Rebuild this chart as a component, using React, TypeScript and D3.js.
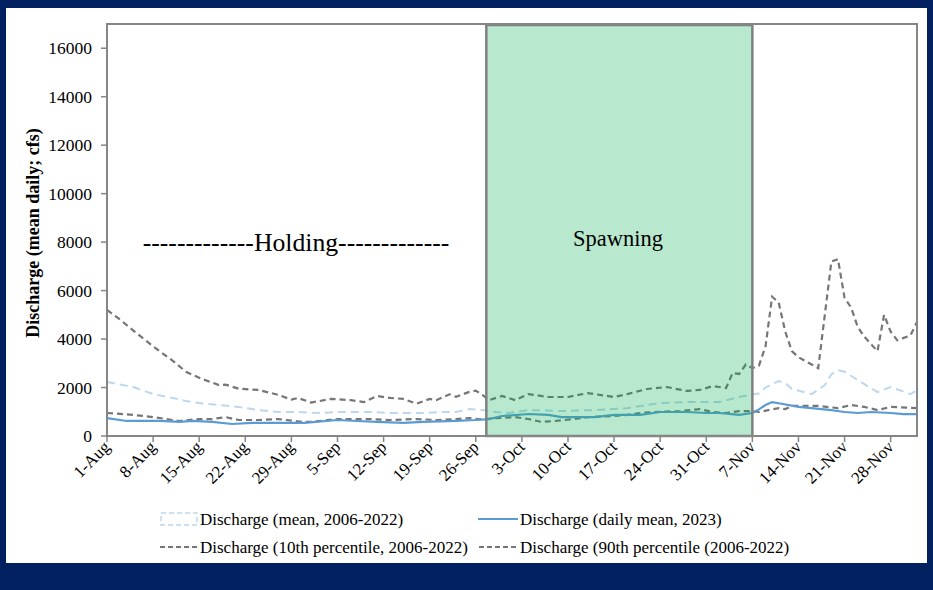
import React from "react";
import * as d3 from "d3";

// Day offsets from 1 Aug 2023, values in cfs
const START = new Date(2023, 7, 1);
const END_DAY = 123;

const meanHist: [number, number][] = [
  [0, 2230], [4, 2020], [7, 1730], [10, 1570], [12, 1440], [14, 1360], [17, 1280], [20, 1200],
  [23, 1070], [26, 990], [29, 990], [32, 950], [35, 990], [40, 990], [43, 950], [48, 950],
  [51, 990], [53, 990], [55, 1110], [57, 1070], [59, 990], [61, 950], [64, 1070], [69, 1030],
  [74, 1070], [79, 1150], [84, 1360], [88, 1400], [93, 1400], [96, 1610], [98, 1720], [99, 1750],
  [100, 2000], [102, 2270], [103, 2190], [104, 1940], [107, 1730], [109, 2100], [110, 2550],
  [111, 2720], [112, 2650], [114, 2310], [117, 1810], [119, 2020], [122, 1730], [123, 1900],
];

const daily2023: [number, number][] = [
  [0, 740], [3, 620], [8, 620], [11, 580], [13, 620], [16, 580], [19, 495], [22, 540], [26, 540],
  [30, 540], [35, 660], [38, 620], [41, 580], [45, 540], [48, 580], [53, 620], [56, 660], [58, 700],
  [60, 825], [64, 907], [67, 870], [69, 780], [72, 780], [74, 780], [77, 870], [81, 870], [84, 990],
  [88, 990], [91, 950], [93, 950], [96, 870], [98, 950], [99, 1100], [100, 1280], [101, 1400],
  [102, 1350], [105, 1200], [107, 1150], [110, 1070], [112, 990], [114, 950], [116, 990],
  [119, 950], [121, 900], [123, 900],
];

const p10Hist: [number, number][] = [
  [0, 950], [4, 870], [7, 780], [10, 660], [11, 620], [14, 700], [16, 700], [18, 780], [20, 660],
  [23, 660], [26, 700], [29, 600], [31, 580], [35, 700], [40, 700], [43, 660], [47, 700], [50, 660],
  [53, 700], [55, 740], [57, 680], [59, 740], [62, 780], [64, 700], [66, 580], [68, 620], [71, 700],
  [73, 780], [77, 825], [79, 870], [81, 950], [83, 990], [87, 1030], [90, 1110], [92, 990],
  [94, 950], [96, 1030], [98, 1030], [99, 990], [102, 1150], [103, 1110], [104, 1240], [108, 1240],
  [111, 1150], [113, 1280], [115, 1200], [117, 1070], [119, 1200], [123, 1150],
];

const p90Hist: [number, number][] = [
  [0, 5200], [2, 4800], [4, 4350], [7, 3700], [10, 3100], [12, 2650], [14, 2400], [17, 2100],
  [18, 2120], [20, 1950], [23, 1900], [26, 1700], [28, 1500], [29, 1570], [31, 1380], [34, 1530],
  [37, 1480], [39, 1400], [41, 1650], [43, 1570], [45, 1530], [47, 1330], [49, 1530], [50, 1480],
  [52, 1720], [53, 1620], [55, 1820], [56, 1870], [57, 1700], [58, 1480], [60, 1650], [62, 1480],
  [64, 1730], [67, 1610], [70, 1610], [73, 1770], [77, 1610], [79, 1730], [82, 1940], [85, 2020],
  [88, 1860], [90, 1900], [92, 2060], [94, 1980], [95, 2600], [96, 2560], [97, 2950], [98, 2800],
  [99, 2900], [100, 3700], [101, 5750], [102, 5500], [103, 4300], [104, 3500], [105, 3250],
  [106, 3100], [107, 2950], [108, 2800], [109, 5000], [110, 7200], [111, 7300], [112, 5700],
  [113, 5300], [114, 4500], [115, 4100], [116, 3800], [117, 3500], [118, 5000], [119, 4300],
  [120, 3950], [121, 4050], [122, 4150], [123, 4700],
];

const yTicks = [0, 2000, 4000, 6000, 8000, 10000, 12000, 14000, 16000];
const Y_MAX = 17000;
const spawnStartDay = 57.6;
const spawnEndDay = 98;
const holdingLabel = "-------------Holding-------------";
const spawningLabel = "Spawning";
const yTitle = "Discharge (mean daily; cfs)";
const legendLabels = [
  "Discharge (mean, 2006-2022)",
  "Discharge (daily mean, 2023)",
  "Discharge (10th percentile, 2006-2022)",
  "Discharge (90th percentile (2006-2022)",
];

const NAVY = "#002060";
const GRAY = "#767676";
const AXIS = "#868686";
const LIGHT_BLUE = "#bdd7ee";
const BLUE = "#5b9bd5";
const SERIF = "'Liberation Serif', 'Times New Roman', serif";

const dayToDate = (d: number) => new Date(START.getTime() + d * 86400000);

export default function App() {
  const W = 933, H = 590;
  const left = 107, right = 917, top = 24, bottom = 436;
  const x = d3.scaleTime().domain([START, dayToDate(END_DAY)]).range([left, right]);
  const y = d3.scaleLinear().domain([0, Y_MAX]).range([bottom, top]);
  const line = d3.line<[number, number]>().x((d) => x(dayToDate(d[0]))).y((d) => y(d[1]));
  const xTicks = d3.range(0, 120, 7).map(dayToDate);
  const fmt = d3.timeFormat("%-d-%b");
  const sx0 = x(dayToDate(spawnStartDay));
  const sx1 = x(dayToDate(spawnEndDay));

  return (
    <svg width={W} height={H} style={{ position: "fixed", left: 0, top: 0 }} fontFamily={SERIF}>
      <rect x={0} y={0} width={W} height={H} fill={NAVY} />
      <rect x={6} y={8} width={921} height={555} fill="#ffffff" />

      {/* series */}
      <path d={line(meanHist) || ""} fill="none" stroke={LIGHT_BLUE} strokeWidth={2} strokeDasharray="8,5" />
      <path d={line(p10Hist) || ""} fill="none" stroke={GRAY} strokeWidth={2.2} strokeDasharray="6,4" />
      <path d={line(p90Hist) || ""} fill="none" stroke={GRAY} strokeWidth={2.2} strokeDasharray="6,4" />
      <path d={line(daily2023) || ""} fill="none" stroke={BLUE} strokeWidth={2.2} />

      {/* spawning window */}
      <rect x={sx0} y={top} width={sx1 - sx0} height={bottom - top} fill="#00b050" fillOpacity={0.28} stroke="none" />
      <rect x={sx0} y={top + 1} width={sx1 - sx0} height={bottom - top - 1} fill="none" stroke="#808080" strokeWidth={2.5} />

      {/* frame */}
      <rect x={left} y={top} width={right - left} height={bottom - top} fill="none" stroke={AXIS} strokeWidth={2} />

      {/* y axis */}
      {yTicks.map((t) => (
        <g key={t}>
          <line x1={left - 6} x2={left} y1={y(t)} y2={y(t)} stroke={AXIS} strokeWidth={1.5} />
          <text x={92} y={y(t)} dy="0.35em" textAnchor="end" fontSize={17.5} fill="#000">{t}</text>
        </g>
      ))}
      <text transform={`translate(39,${(top + bottom) / 2 + 3}) rotate(-90)`} textAnchor="middle" fontSize={18} fontWeight="bold" fill="#000">
        {yTitle}
      </text>

      {/* x axis */}
      {xTicks.map((t, i) => (
        <g key={i}>
          <line x1={x(t)} x2={x(t)} y1={bottom} y2={bottom + 6} stroke={AXIS} strokeWidth={1.5} />
          <text transform={`translate(${x(t) + 4},${bottom + 12}) rotate(-45)`} textAnchor="end" fontSize={17} fill="#000">
            {fmt(t)}
          </text>
        </g>
      ))}

      {/* annotations */}
      <text x={296} y={251} textAnchor="middle" fontSize={25.7} fill="#000">{holdingLabel}</text>
      <text x={618} y={246} textAnchor="middle" fontSize={22.5} fill="#000">{spawningLabel}</text>

      {/* legend */}
      <g fontSize={17} fill="#000">
        <rect x={161} y={513} width={36} height={12} fill="none" stroke={LIGHT_BLUE} strokeWidth={1.5} strokeDasharray="5,3" />
        <text x={200} y={525}>{legendLabels[0]}</text>
        <line x1={478} x2={518} y1={519} y2={519} stroke={BLUE} strokeWidth={2} />
        <text x={520} y={525}>{legendLabels[1]}</text>
        <line x1={160} x2={198} y1={547} y2={547} stroke={GRAY} strokeWidth={2} strokeDasharray="5,3" />
        <text x={200} y={553}>{legendLabels[2]}</text>
        <line x1={479} x2={518} y1={547} y2={547} stroke={GRAY} strokeWidth={2} strokeDasharray="5,3" />
        <text x={520} y={553}>{legendLabels[3]}</text>
      </g>
    </svg>
  );
}
